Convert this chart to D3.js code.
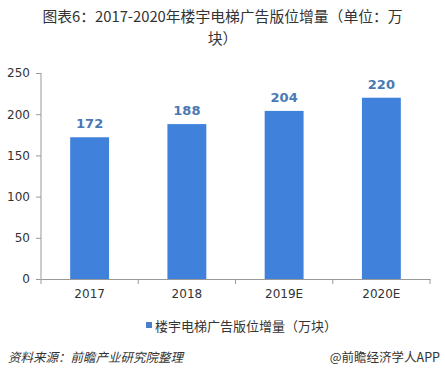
<!DOCTYPE html>
<html>
<head>
<meta charset="utf-8">
<script src="https://cdn.jsdelivr.net/npm/d3@7"></script>
<style>
  body { margin: 0; background: #fff; }
  svg { display: block; font-family: "Noto Sans CJK SC", "DejaVu Sans", sans-serif; }
</style>
</head>
<body>
<div id="chart"></div>
<script>
var years = ["2017", "2018", "2019E", "2020E"];
var values = [172, 188, 204, 220];
var yTicks = [0, 50, 100, 150, 200, 250];
var titleLines = ["图表6：2017-2020年楼宇电梯广告版位增量（单位：万", "块）"];
var legendLabel = "楼宇电梯广告版位增量（万块）";

var width = 445, height = 381;
var margin = { top: 73, left: 41, right: 15, bottom: 102 };

var svg = d3.select("#chart").append("svg")
    .attr("width", width)
    .attr("height", height);

// title, wrapped onto two lines
svg.selectAll(".title")
    .data(titleLines)
  .enter().append("text")
    .attr("class", "title")
    .attr("x", width / 2)
    .attr("y", function (d, i) { return 22 + i * 22; })
    .attr("text-anchor", "middle")
    .attr("font-size", 14.8)
    .attr("fill", "#333")
    .text(function (d) { return d; });

var x = d3.scaleBand()
    .domain(years)
    .range([margin.left, width - margin.right])
    .paddingInner(0.6)
    .paddingOuter(0.3);

var y = d3.scaleLinear()
    .domain([0, 250])
    .range([height - margin.bottom, margin.top]);

// y axis
var yAxis = svg.append("g")
    .attr("transform", "translate(" + margin.left + ",0)")
    .call(d3.axisLeft(y).tickValues(yTicks).tickSize(5).tickPadding(6));
yAxis.select(".domain").attr("stroke", "#999").attr("d", "M0," + y(250) + "V" + y(0));
yAxis.selectAll(".tick line").attr("stroke", "#999");
yAxis.selectAll("text").attr("font-size", 12).attr("fill", "#333")
    .attr("font-family", "DejaVu Sans, sans-serif");

// x axis
var xAxis = svg.append("g")
    .attr("transform", "translate(0," + y(0) + ")")
    .call(d3.axisBottom(x).tickSize(0).tickPadding(10));
xAxis.select(".domain").attr("stroke", "#999");
xAxis.selectAll("text").attr("font-size", 12).attr("fill", "#333")
    .attr("font-family", "DejaVu Sans, sans-serif");

// category boundary ticks
var step = x.step();
var bounds = years.map(function (d) { return x(d) - (step - x.bandwidth()) / 2; });
bounds.push(width - margin.right);
xAxis.selectAll(".bound")
    .data(bounds)
  .enter().append("line")
    .attr("class", "bound")
    .attr("x1", function (d) { return d; })
    .attr("x2", function (d) { return d; })
    .attr("y1", 0)
    .attr("y2", 5)
    .attr("stroke", "#999");

// bars
svg.selectAll(".bar")
    .data(values)
  .enter().append("rect")
    .attr("class", "bar")
    .attr("x", function (d, i) { return x(years[i]); })
    .attr("y", function (d) { return y(d); })
    .attr("width", x.bandwidth())
    .attr("height", function (d) { return y(0) - y(d); })
    .attr("fill", "#4081dc");

// value labels
svg.selectAll(".val")
    .data(values)
  .enter().append("text")
    .attr("class", "val")
    .attr("x", function (d, i) { return x(years[i]) + x.bandwidth() / 2; })
    .attr("y", function (d) { return y(d) - 9; })
    .attr("text-anchor", "middle")
    .attr("font-size", 13)
    .attr("font-weight", "bold")
    .attr("font-family", "DejaVu Sans, sans-serif")
    .attr("fill", "#4a78b4")
    .text(function (d) { return d; });

// legend
var legend = svg.append("g").attr("transform", "translate(146,328)");
legend.append("rect")
    .attr("x", 0).attr("y", -6)
    .attr("width", 6).attr("height", 6)
    .attr("fill", "#4a7ec8");
legend.append("text")
    .attr("x", 9).attr("y", 0)
    .attr("dy", "0.2em")
    .attr("font-size", 13)
    .attr("fill", "#333")
    .text(legendLabel);

// footer
svg.append("text")
    .attr("x", 8).attr("y", 362)
    .attr("font-size", 12.5)
    .attr("font-style", "italic")
    .attr("fill", "#333")
    .text("资料来源：前瞻产业研究院整理");
svg.append("text")
    .attr("x", 440).attr("y", 362)
    .attr("text-anchor", "end")
    .attr("font-size", 12.5)
    .attr("fill", "#333")
    .text("@前瞻经济学人APP");
</script>
</body>
</html>
